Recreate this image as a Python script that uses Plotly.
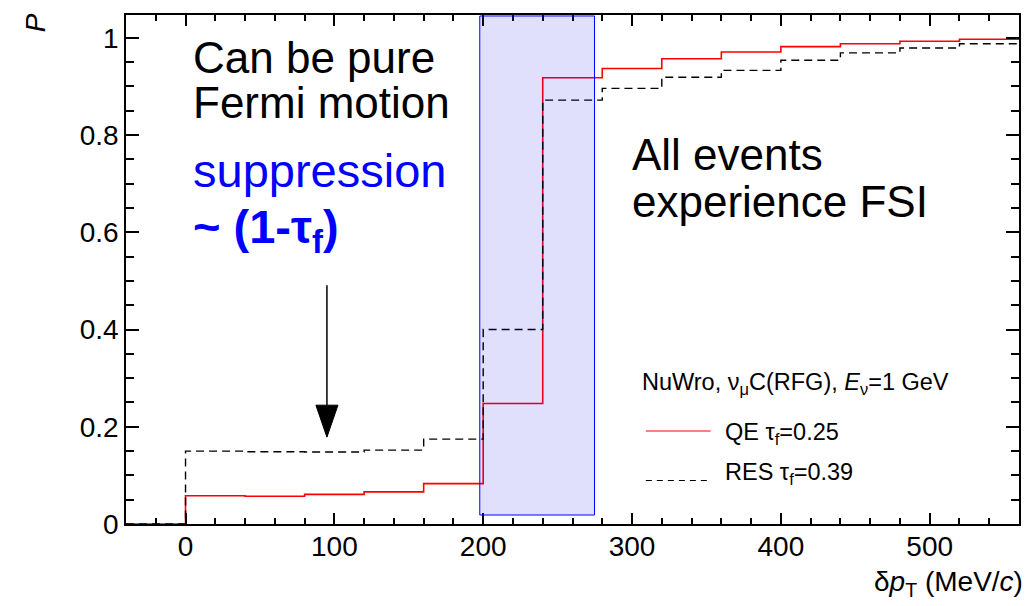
import plotly.graph_objects as go

# ---------------- data ----------------
bin_edges = [-40, 0, 40, 80, 120, 160, 200, 240, 280, 320, 360, 400, 440, 480, 520, 560]
qe_values = [0.0, 0.058, 0.057, 0.061, 0.066, 0.083, 0.248, 0.918, 0.937, 0.957,
             0.971, 0.982, 0.988, 0.993, 0.997]
res_values = [0.0, 0.150, 0.1485, 0.148, 0.152, 0.1745, 0.400, 0.872, 0.896, 0.919,
              0.933, 0.954, 0.969, 0.979, 0.988]

x_tick_step = 100
x_minor_step = 20
y_tick_step = 0.2
y_minor_step = 0.05

legend_header = "NuWro, ν<sub>μ</sub>C(RFG), <i>E</i><sub>ν</sub>=1 GeV"
qe_label = "QE τ<sub>f</sub>=0.25"
res_label = "RES τ<sub>f</sub>=0.39"

# highlighted region and arrow (data units)
band_x = [197.7, 274.8]
band_y = [0.0185, 1.045]
arrow_x = 95
arrow_y_start = 0.491
arrow_y_head = 0.2444
arrow_y_tip = 0.1786
arrow_half_w = 7.4

# ---------------- layout geometry ----------------
W, H = 1030, 606
L, R, T, B = 126, 9, 15, 82
X_RANGE = [-40, 560]
Y_RANGE = [0, 1.047]
FONT = "Liberation Sans, Arial, Helvetica, sans-serif"


def px_x(px):
    return (px - L) / (W - L - R)


def px_y(py):
    return (H - B - py) / (H - T - B)


fig = go.Figure()

fig.add_trace(go.Scatter(
    x=bin_edges, y=qe_values + [qe_values[-1]],
    mode="lines", line=dict(shape="hv", color="#ff0000", width=1.6),
    showlegend=False, hoverinfo="skip"))

fig.add_trace(go.Scatter(
    x=bin_edges, y=res_values + [res_values[-1]],
    mode="lines", line=dict(shape="hv", color="black", width=1.4, dash="8px,5px"),
    showlegend=False, hoverinfo="skip"))

shapes = [
    dict(type="rect", xref="x", yref="y", x0=band_x[0], x1=band_x[1],
         y0=band_y[0], y1=band_y[1], fillcolor="rgba(0,0,235,0.12)",
         line=dict(color="#0000ff", width=1), layer="above"),
    dict(type="line", xref="x", yref="y", x0=arrow_x, x1=arrow_x,
         y0=arrow_y_start, y1=arrow_y_head, line=dict(color="black", width=1.5)),
    dict(type="path", xref="x", yref="y",
         path=f"M {arrow_x - arrow_half_w},{arrow_y_head} L {arrow_x + arrow_half_w},{arrow_y_head} "
              f"L {arrow_x},{arrow_y_tip} Z",
         fillcolor="black", line=dict(color="black", width=1)),
    # legend sample lines
    dict(type="line", xref="paper", yref="paper", x0=px_x(647), x1=px_x(712),
         y0=px_y(431), y1=px_y(431), line=dict(color="#ff0000", width=1.2)),
    dict(type="line", xref="paper", yref="paper", x0=px_x(647), x1=px_x(712),
         y0=px_y(480.5), y1=px_y(480.5), line=dict(color="black", width=1.2, dash="6px,5px")),
]


def label(text, px, py, size, color="black", xanchor="left", angle=0):
    return dict(text=text, x=px_x(px), y=px_y(py), xref="paper", yref="paper",
                xanchor=xanchor, yanchor="middle", showarrow=False, textangle=angle,
                font=dict(family=FONT, size=size, color=color),
                borderpad=0, borderwidth=0)


annotations = [
    label("Can be pure", 193, 57.3, 44),
    label("Fermi motion", 193, 102.6, 44),
    label("suppression", 193, 170.2, 47, color="#0000ff"),
    label("<b>~ (1-τ<sub>f</sub>)</b>", 193, 230, 47, color="#0000ff"),
    label("All events", 633, 154.6, 44),
    label("experience FSI", 633, 201.6, 44),
    label(legend_header, 643, 383.5, 23.5),
    label(qe_label, 726, 433.5, 23.5),
    label(res_label, 726, 473, 23.5),
    label("<i>P</i>", 35, 23, 28, angle=-90, xanchor="center"),
    label("δ<i>p</i><sub>T</sub> (MeV/<i>c</i>)", 1025, 583, 28, xanchor="right"),
]

axis_common = dict(
    showline=True, linecolor="black", linewidth=1.5, mirror="allticks",
    ticks="inside", tickcolor="black", tickwidth=1.5,
    showgrid=False, zeroline=False,
    tickfont=dict(family=FONT, size=28, color="black"),
)

fig.update_layout(
    width=W, height=H, autosize=False,
    margin=dict(l=L, r=R, t=T, b=B, pad=0),
    paper_bgcolor="white", plot_bgcolor="white",
    xaxis=dict(range=X_RANGE, tickmode="linear", tick0=0, dtick=x_tick_step,
               ticklen=11,
               minor=dict(tickmode="linear", tick0=0, dtick=x_minor_step, ticklen=6,
                          ticks="inside", tickcolor="black", tickwidth=1.5, showgrid=False),
               ticklabelstandoff=-3, **axis_common),
    yaxis=dict(range=Y_RANGE, tickmode="linear", tick0=0, dtick=y_tick_step,
               ticklen=13,
               minor=dict(tickmode="linear", tick0=0, dtick=y_minor_step, ticklen=8,
                          ticks="inside", tickcolor="black", tickwidth=1.5, showgrid=False),
               ticklabelstandoff=0, **axis_common),
    shapes=shapes, annotations=annotations,
    showlegend=False,
)

fig.write_html("out.html")
